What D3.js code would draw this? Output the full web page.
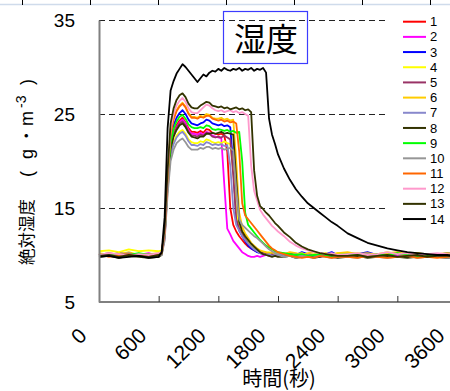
<!DOCTYPE html>
<html>
<head>
<meta charset="utf-8">
<script src="https://cdn.jsdelivr.net/npm/d3@7"></script>
<style>
  html, body { margin: 0; padding: 0; background: #fff; }
  svg { display: block; }
</style>
</head>
<body>
<div id="chart"></div>
<script>
// time axis (s), shared by all series
const times = [0, 100, 200, 300, 400, 500, 600,
  630, 660, 690, 720, 750, 780, 810, 840, 870, 900, 930, 960, 990, 1020, 1050, 1080, 1110, 1140, 1170, 1200,
  1230, 1260, 1290, 1320, 1350, 1380, 1410, 1440, 1470, 1500, 1530, 1560, 1590, 1620, 1650, 1680, 1710, 1740, 1770, 1800,
  1860, 1920, 1980, 2040, 2100, 2160, 2220, 2280, 2340, 2400,
  2500, 2600, 2700, 2800, 2900, 3000, 3100, 3200, 3300, 3400, 3500, 3600, 3700];

const seriesNames = ["1", "2", "3", "4", "5", "6", "7", "8", "9", "10", "11", "12", "13", "14"];
const seriesColors = ["#ff0000", "#ff00ff", "#0000ff", "#ffff00", "#993366", "#ffcc00", "#8888cc",
  "#333300", "#00ff00", "#969696", "#ff6600", "#ff99cc", "#333300", "#000000"];

const s1 = [10.1, 9.9, 10.2, 10.0, 10.1, 9.9, 10.0,
  10.2, 12.0, 17.8, 21.6, 23.0, 23.8, 24.3, 24.6, 24.1, 23.5, 23.1, 23.1, 23.0, 23.2, 23.0, 23.4, 23.3, 23.0, 22.9, 22.8,
  22.9, 22.7, 21.0, 15.0, 13.2, 12.5, 12.0, 11.6, 11.2, 10.9, 10.7, 10.5, 10.4, 10.3, 10.2, 10.1, 10.2, 10.0, 10.1, 10.0,
  10.1, 9.9, 10.0, 10.2, 10.0, 9.9, 10.1, 10.0, 9.9, 10.1,
  10.0, 10.1, 9.9, 10.0, 10.2, 10.0, 9.9, 10.1, 10.0, 9.9, 10.0, 10.1, 10.0];
const s2 = [10.0, 10.1, 9.9, 10.1, 10.0, 10.2, 9.9,
  10.1, 11.8, 17.5, 21.4, 22.8, 23.6, 24.1, 24.4, 24.0, 23.3, 22.9, 22.9, 22.8, 23.0, 22.8, 23.1, 23.0, 22.7, 22.6, 22.5,
  22.4, 17.5, 12.8, 12.2, 11.5, 11.1, 10.7, 10.3, 10.1, 9.9, 9.8, 9.8, 9.9, 9.8, 9.9, 10.0, 9.9, 10.0, 9.9, 10.0,
  9.9, 10.0, 9.8, 9.9, 10.1, 9.9, 9.8, 10.0, 9.9, 10.0,
  9.9, 10.0, 9.8, 10.1, 9.9, 10.0, 9.9, 9.8, 10.0, 9.9, 10.0, 9.9, 9.9];
const s3 = [10.1, 10.0, 10.2, 10.1, 9.9, 10.1, 10.0,
  10.2, 12.2, 18.0, 22.3, 23.8, 24.6, 25.1, 25.4, 25.0, 24.4, 24.0, 23.9, 23.8, 24.0, 24.1, 24.4, 24.3, 24.0, 23.9, 23.8,
  23.9, 23.7, 23.8, 23.6, 19.5, 14.0, 12.6, 12.0, 11.5, 11.0, 10.7, 10.5, 10.3, 10.2, 10.1, 10.2, 10.0, 10.1, 10.2, 10.0,
  10.1, 10.2, 10.0, 10.3, 10.1, 10.0, 10.2, 10.1, 10.3, 10.0,
  10.2, 10.1, 10.3, 10.0, 10.2, 10.1, 10.0, 10.2, 10.1, 10.0, 10.2, 10.1, 10.1];
const s4 = [10.4, 10.5, 10.3, 10.6, 10.4, 10.5, 10.4,
  10.5, 12.0, 17.0, 20.8, 22.0, 22.7, 23.1, 23.3, 22.9, 22.3, 22.0, 21.9, 21.9, 22.1, 22.0, 22.3, 22.2, 22.0, 21.9, 22.0,
  21.9, 22.1, 21.9, 21.8, 19.0, 14.5, 13.0, 12.5, 12.0, 11.5, 11.1, 10.8, 10.6, 10.4, 10.3, 10.2, 10.3, 10.1, 10.2, 10.1,
  10.2, 10.0, 10.1, 10.2, 10.0, 10.1, 10.2, 10.0, 10.1, 10.2,
  10.1, 10.2, 10.0, 10.1, 10.3, 10.1, 10.0, 10.2, 10.1, 10.0, 10.1, 10.2, 10.1];
const s5 = [10.0, 10.2, 10.0, 9.9, 10.1, 10.0, 10.1,
  10.2, 12.1, 17.6, 21.5, 22.8, 23.5, 24.0, 24.2, 23.8, 23.1, 22.7, 22.7, 22.6, 22.8, 22.7, 23.0, 22.9, 22.6, 22.5, 22.6,
  22.5, 22.7, 22.5, 22.3, 18.5, 13.8, 12.8, 12.2, 11.7, 11.2, 10.9, 10.6, 10.4, 10.3, 10.2, 10.1, 10.0, 10.1, 10.0, 10.1,
  10.0, 10.1, 9.9, 10.0, 10.1, 9.9, 10.0, 10.1, 10.0, 9.9,
  10.0, 10.1, 9.9, 10.0, 10.0, 10.1, 9.9, 10.0, 10.1, 10.0, 9.9, 10.0, 10.0];
const s6 = [10.2, 10.0, 10.1, 10.3, 10.0, 10.1, 10.2,
  10.3, 12.5, 18.5, 23.0, 24.6, 25.4, 25.9, 26.2, 25.8, 25.1, 24.7, 24.7, 24.6, 24.8, 24.7, 25.0, 24.9, 24.6, 24.5, 24.5,
  24.6, 24.4, 24.5, 24.3, 24.4, 20.0, 14.5, 13.0, 12.3, 11.8, 11.3, 11.0, 10.7, 10.5, 10.4, 10.3, 10.2, 10.3, 10.1, 10.2,
  10.1, 10.3, 10.2, 10.0, 10.2, 10.3, 10.1, 10.2, 10.0, 10.2,
  10.3, 10.1, 10.2, 10.0, 10.2, 10.3, 10.1, 10.2, 10.0, 10.1, 10.2, 10.1, 10.2];
const s7 = [9.9, 10.1, 10.0, 10.2, 9.9, 10.0, 10.1,
  10.1, 11.8, 17.0, 20.6, 21.8, 22.5, 22.9, 23.1, 22.7, 22.1, 21.7, 21.7, 21.6, 21.8, 21.7, 22.0, 21.9, 21.7, 21.8, 21.7,
  21.8, 21.6, 21.7, 19.5, 15.0, 13.2, 12.6, 12.0, 11.6, 11.2, 10.9, 10.6, 10.4, 10.2, 10.1, 10.0, 10.1, 9.9, 10.0, 10.1,
  10.0, 9.9, 10.1, 9.8, 10.0, 9.9, 10.0, 10.1, 9.9, 10.0,
  9.9, 10.0, 10.1, 9.9, 10.0, 9.8, 10.0, 9.9, 10.1, 10.0, 9.9, 10.0, 10.0];
const s8 = [9.8, 9.9, 9.7, 9.9, 9.8, 9.7, 9.8,
  10.0, 12.0, 17.5, 21.3, 22.6, 23.3, 23.8, 24.0, 23.6, 23.0, 22.6, 22.5, 22.4, 22.6, 22.6, 22.9, 22.9, 23.0, 22.9, 23.0,
  23.1, 22.9, 23.0, 22.9, 22.8, 18.0, 13.5, 12.5, 12.0, 11.6, 11.2, 10.9, 10.6, 10.3, 10.1, 10.0, 9.9, 9.8, 9.9, 9.8,
  9.8, 9.9, 9.7, 9.8, 9.9, 9.7, 9.8, 9.9, 9.8, 9.7,
  9.8, 9.9, 9.7, 9.8, 9.9, 9.8, 9.7, 9.8, 9.9, 9.8, 9.7, 9.8, 9.8];
const s9 = [10.0, 10.1, 9.9, 10.0, 10.2, 10.0, 10.1,
  10.2, 12.2, 17.8, 22.0, 23.4, 24.2, 24.7, 24.9, 24.5, 23.9, 23.6, 23.5, 23.5, 23.6, 23.5, 23.8, 23.7, 23.4, 23.3, 23.4,
  23.3, 23.2, 23.3, 23.1, 23.2, 23.0, 23.1, 20.0, 14.5, 13.2, 12.8, 12.4, 12.0, 11.6, 11.3, 11.0, 10.8, 10.6, 10.4, 10.3,
  10.2, 10.1, 10.0, 10.1, 9.9, 10.0, 10.1, 10.0, 9.9, 10.0,
  10.1, 10.0, 9.9, 10.1, 10.0, 10.2, 10.0, 9.9, 10.1, 10.0, 10.0, 9.9, 10.0];
const s10 = [9.9, 10.0, 9.8, 10.0, 9.9, 10.1, 9.9,
  10.0, 11.5, 16.5, 20.0, 21.2, 21.9, 22.2, 22.4, 22.0, 21.5, 21.2, 21.2, 21.2, 21.4, 21.3, 21.5, 21.5, 21.3, 21.4, 21.3,
  21.4, 21.2, 21.3, 21.4, 21.1, 17.0, 13.8, 13.2, 12.9, 12.6, 12.3, 12.0, 11.8, 11.5, 11.2, 10.9, 10.6, 10.4, 10.2, 10.0,
  9.8, 9.9, 9.7, 9.9, 9.8, 9.7, 9.9, 9.8, 9.7, 9.8,
  9.8, 9.7, 9.9, 9.8, 9.7, 9.8, 9.9, 9.7, 9.8, 9.8, 9.7, 9.8, 9.8];
const s11 = [10.1, 9.8, 10.0, 10.1, 9.9, 10.0, 10.0,
  10.2, 12.4, 18.3, 22.8, 24.4, 25.3, 25.8, 26.1, 25.7, 25.0, 24.6, 24.6, 24.5, 24.7, 24.6, 24.8, 24.8, 24.5, 24.4, 24.3,
  24.4, 24.2, 24.3, 24.1, 24.2, 24.0, 21.0, 15.5, 14.2, 13.8, 13.4, 13.0, 12.6, 12.2, 11.8, 11.4, 11.0, 10.7, 10.5, 10.3,
  10.1, 9.9, 9.8, 9.7, 9.8, 9.7, 9.9, 9.8, 9.7, 9.8,
  9.8, 9.7, 9.9, 9.8, 9.7, 9.8, 9.9, 9.7, 9.8, 9.7, 9.8, 9.9, 9.8];
const s12 = [10.0, 10.2, 10.1, 9.9, 10.1, 10.0, 10.2,
  10.3, 12.6, 18.8, 23.4, 25.0, 25.9, 26.4, 26.7, 26.3, 25.6, 25.2, 25.1, 25.1, 25.4, 25.7, 26.0, 25.9, 25.6, 25.4, 25.3,
  25.4, 25.2, 25.3, 25.4, 25.2, 25.3, 25.1, 25.2, 25.0, 24.8, 19.5, 16.8, 15.8, 14.8, 14.3, 13.9, 13.5, 13.1, 12.8, 12.5,
  12.0, 11.4, 11.0, 10.7, 10.5, 10.3, 10.2, 10.1, 10.2, 10.0,
  10.1, 10.2, 10.0, 10.1, 10.3, 10.1, 10.2, 10.0, 10.1, 10.2, 10.1, 10.0, 10.1];
const s13 = [9.9, 10.0, 9.8, 10.0, 9.9, 9.8, 10.0,
  10.2, 12.8, 19.0, 24.0, 25.6, 26.5, 27.0, 27.2, 26.8, 26.1, 25.7, 25.6, 25.6, 25.9, 26.1, 26.3, 26.2, 25.9, 25.8, 25.7,
  25.8, 25.6, 25.7, 25.5, 25.6, 25.7, 25.5, 25.6, 25.4, 25.5, 25.2, 19.0, 16.3, 15.2, 14.9, 14.5, 14.2, 13.8, 13.4, 13.1,
  12.4, 11.9, 11.3, 10.9, 10.6, 10.4, 10.2, 10.1, 10.0, 9.9,
  9.9, 10.0, 9.8, 9.9, 10.0, 9.8, 9.9, 10.0, 9.8, 9.9, 9.9, 9.8, 9.9];
const s14 = [9.8, 9.9, 9.7, 9.8, 9.9, 9.7, 9.8,
  10.3, 14.0, 23.5, 27.5, 28.5, 29.3, 29.8, 30.3, 30.0, 29.6, 29.2, 28.8, 28.4, 28.8, 29.2, 29.0, 29.4, 29.6, 29.5, 29.8,
  29.6, 29.9, 29.7, 29.6, 29.8, 29.7, 29.9, 29.6, 29.8, 29.7, 29.9, 29.6, 29.8, 29.7, 29.9, 29.4, 24.5, 22.8, 21.8, 20.7,
  19.2, 18.0, 17.0, 16.2, 15.5, 15.0, 14.5, 14.0, 13.5, 13.1,
  12.3, 11.8, 11.3, 11.0, 10.7, 10.5, 10.3, 10.2, 10.1, 10.0, 10.0, 9.9, 9.9];
const seriesValues = [s1, s2, s3, s4, s5, s6, s7, s8, s9, s10, s11, s12, s13, s14];

const xTicks = [0, 600, 1200, 1800, 2400, 3000, 3600];
const yTicks = [5, 15, 25, 35];
const gridValues = [15, 25, 35];

const width = 450, height = 391;
const plot = { left: 99, right: 457, top: 20, bottom: 302 };

const svg = d3.select("#chart")
  .append("svg")
  .attr("width", width)
  .attr("height", height)
  .style("font-family", "'Liberation Sans', Arial, sans-serif");

// spreadsheet ruler at the very top
svg.append("line")
  .attr("x1", 0).attr("x2", width)
  .attr("y1", 4.5).attr("y2", 4.5)
  .attr("stroke", "#cfdbeb").attr("stroke-width", 1.5);
svg.selectAll(".ruler")
  .data([22, 90, 158, 226, 294, 362, 430])
  .enter().append("line")
  .attr("class", "ruler")
  .attr("x1", d => d + 0.5).attr("x2", d => d + 0.5)
  .attr("y1", 0).attr("y2", 5)
  .attr("stroke", "#000");

const x = d3.scaleLinear().domain([0, 3600]).range([plot.left, plot.right]);
const y = d3.scaleLinear().domain([5, 35]).range([plot.bottom, plot.top]);

// dashed grid lines
svg.selectAll(".grid")
  .data(gridValues)
  .enter().append("line")
  .attr("class", "grid")
  .attr("x1", plot.left).attr("x2", 385)
  .attr("y1", d => Math.round(y(d)) + 0.5)
  .attr("y2", d => Math.round(y(d)) + 0.5)
  .attr("stroke", "#222")
  .attr("stroke-dasharray", "6,4");

// series
const line = d3.line()
  .defined(d => d.v != null)
  .x(d => x(d.t))
  .y(d => y(d.v));

seriesValues.forEach((vals, i) => {
  const pts = times.map((t, j) => ({ t: t, v: vals[j] }));
  svg.append("path")
    .datum(pts)
    .attr("fill", "none")
    .attr("stroke", seriesColors[i])
    .attr("stroke-width", 1.8)
    .attr("stroke-linejoin", "round")
    .attr("d", line);
});

// axes
const xAxis = svg.append("g")
  .attr("transform", `translate(0,${plot.bottom})`)
  .call(d3.axisTop(x).tickValues(xTicks).tickSize(6).tickFormat(""));
xAxis.select(".domain").attr("stroke", "#808080").attr("stroke-width", 2)
  .attr("d", `M${plot.left},0H${width}`);
xAxis.selectAll(".tick line").attr("stroke", "#333");

xAxis.selectAll(".xlab")
  .data(xTicks)
  .enter().append("text")
  .attr("class", "xlab")
  .attr("transform", d => `translate(${x(d) - 11},35) rotate(-45)`)
  .attr("text-anchor", "end")
  .attr("font-size", 21)
  .attr("fill", "#000")
  .text(d => d);

const yAxis = svg.append("g")
  .attr("transform", `translate(${plot.left},0)`)
  .call(d3.axisLeft(y).tickValues(yTicks).tickSize(0).tickPadding(24));
yAxis.select(".domain").attr("stroke", "#808080").attr("stroke-width", 2);
yAxis.selectAll(".tick text")
  .attr("font-size", 19)
  .attr("font-family", "'Liberation Sans', Arial, sans-serif")
  .attr("fill", "#000");

// y axis title, pieces placed along the rotated baseline (measured from the bottom end)
const yTitle = svg.append("text")
  .attr("transform", "translate(33,265) rotate(-90)")
  .attr("font-family", "'Noto Sans CJK JP', sans-serif")
  .attr("font-size", 16.5);
yTitle.append("tspan").attr("x", 0).text("絶対湿度");
yTitle.append("tspan").attr("x", 88).attr("font-family", "'Liberation Sans', Arial, sans-serif")
  .attr("font-size", 18).text("(");
yTitle.append("tspan").attr("x", 106).attr("font-family", "'Liberation Sans', Arial, sans-serif")
  .attr("font-size", 18).text("g");
yTitle.append("tspan").attr("x", 121).text("・");
yTitle.append("tspan").attr("x", 139).attr("font-family", "'Liberation Sans', Arial, sans-serif")
  .attr("font-size", 18).text("m");
yTitle.append("tspan").attr("x", 157).attr("dy", -7).attr("font-family", "'Liberation Sans', Arial, sans-serif")
  .attr("font-size", 14).text("-3");
yTitle.append("tspan").attr("x", 180).attr("dy", 7).attr("font-family", "'Liberation Sans', Arial, sans-serif")
  .attr("font-size", 18).text(")");

svg.append("text")
  .attr("x", 279).attr("y", 386)
  .attr("text-anchor", "middle")
  .attr("font-family", "'Noto Sans CJK JP', sans-serif")
  .attr("font-size", 20)
  .text("時間(秒)");

// title box
svg.append("rect")
  .attr("x", 223.5).attr("y", 11.5)
  .attr("width", 84).attr("height", 52)
  .attr("fill", "none")
  .attr("stroke", "#3c3cff")
  .attr("stroke-width", 1.2);
svg.append("text")
  .attr("x", 266).attr("y", 51)
  .attr("text-anchor", "middle")
  .attr("font-family", "'Noto Sans CJK JP', sans-serif")
  .attr("font-size", 32)
  .text("湿度");

// legend
const legend = svg.selectAll(".legend")
  .data(seriesNames)
  .enter().append("g")
  .attr("class", "legend")
  .attr("transform", (d, i) => `translate(0,${21.7 + i * 15.18})`);
legend.append("line")
  .attr("x1", 403).attr("x2", 426)
  .attr("stroke", (d, i) => seriesColors[i])
  .attr("stroke-width", 2);
legend.append("text")
  .attr("x", 430)
  .attr("dy", "0.35em")
  .attr("font-size", 13)
  .text(d => d);
</script>
</body>
</html>
